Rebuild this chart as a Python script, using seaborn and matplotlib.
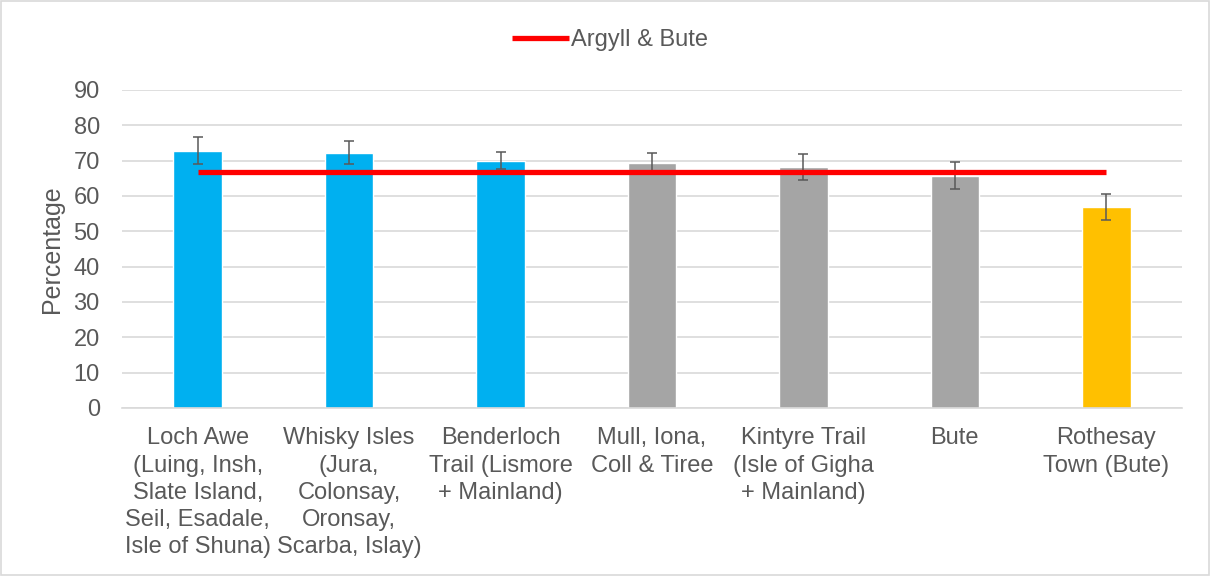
import matplotlib
matplotlib.use("Agg")
import matplotlib.pyplot as plt
import seaborn as sns
import numpy as np

# data
areas = [
    "Loch Awe\n(Luing, Insh,\nSlate Island,\nSeil, Esadale,\nIsle of Shuna)",
    "Whisky Isles\n(Jura,\nColonsay,\nOronsay,\nScarba, Islay)",
    "Benderloch\nTrail (Lismore\n+ Mainland)",
    "Mull, Iona,\nColl & Tiree",
    "Kintyre Trail\n(Isle of Gigha\n+ Mainland)",
    "Bute",
    "Rothesay\nTown (Bute)",
]
pct = [72.8, 72.3, 70.0, 69.3, 68.1, 65.7, 57.0]
err = [3.8, 3.3, 2.5, 3.0, 3.7, 3.8, 3.7]
argyll_bute = [66.9] * 7
bar_colors = ["#00B0F0", "#00B0F0", "#00B0F0", "#A5A5A5", "#A5A5A5", "#A5A5A5", "#FFC000"]

sns.set_style("white")
plt.rcParams["font.family"] = ["Liberation Sans", "DejaVu Sans"]
text_col = "#595959"
fs = 17

fig = plt.figure(figsize=(12.1, 5.76), dpi=100)
ax = fig.add_axes([122 / 1210, 1 - 408 / 576, (1182 - 122) / 1210, (408 - 90) / 576])

sns.barplot(x=areas, y=pct, hue=areas, palette=bar_colors, legend=False,
            width=0.32, saturation=1, ax=ax)
ax.errorbar(range(len(areas)), pct, yerr=err, fmt="none", ecolor="#595959",
            elinewidth=1.1, capsize=3.8, capthick=1.1, zorder=3)
ax.plot(range(len(areas)), argyll_bute, color="#FF0000", lw=3.8,
        solid_capstyle="butt", label="Argyll & Bute", zorder=4)

ax.set_ylim(0, 90)
ax.set_xlim(-0.5, 6.5)
ax.set_yticks(np.arange(0, 91, 10))
ax.yaxis.grid(True, color="#D9D9D9", lw=1.2)
ax.set_axisbelow(True)
for s in ["top", "right", "left"]:
    ax.spines[s].set_visible(False)
ax.spines["bottom"].set_color("#D9D9D9")
ax.spines["bottom"].set_linewidth(1.2)
ax.tick_params(axis="both", length=0, colors=text_col, labelsize=fs)
ax.tick_params(axis="y", pad=16)
ax.tick_params(axis="x", pad=14)
for lbl in ax.get_xticklabels():
    lbl.set_linespacing(1.3)
ax.set_ylabel("Percentage", fontsize=fs + 1, color=text_col, labelpad=7)

fig.legend(handles=ax.get_lines()[-1:], labels=["Argyll & Bute"], loc="center",
           bbox_to_anchor=(610 / 1210, 1 - 40 / 576), frameon=False,
           fontsize=fs, labelcolor=text_col, handlelength=2.4, handletextpad=0.1)

fig.patches.append(plt.Rectangle((0.001, 0.001), 0.998, 0.997, transform=fig.transFigure,
                                 fill=False, edgecolor="#D9D9D9", lw=1.2))

fig.savefig("out.png", dpi=100)
